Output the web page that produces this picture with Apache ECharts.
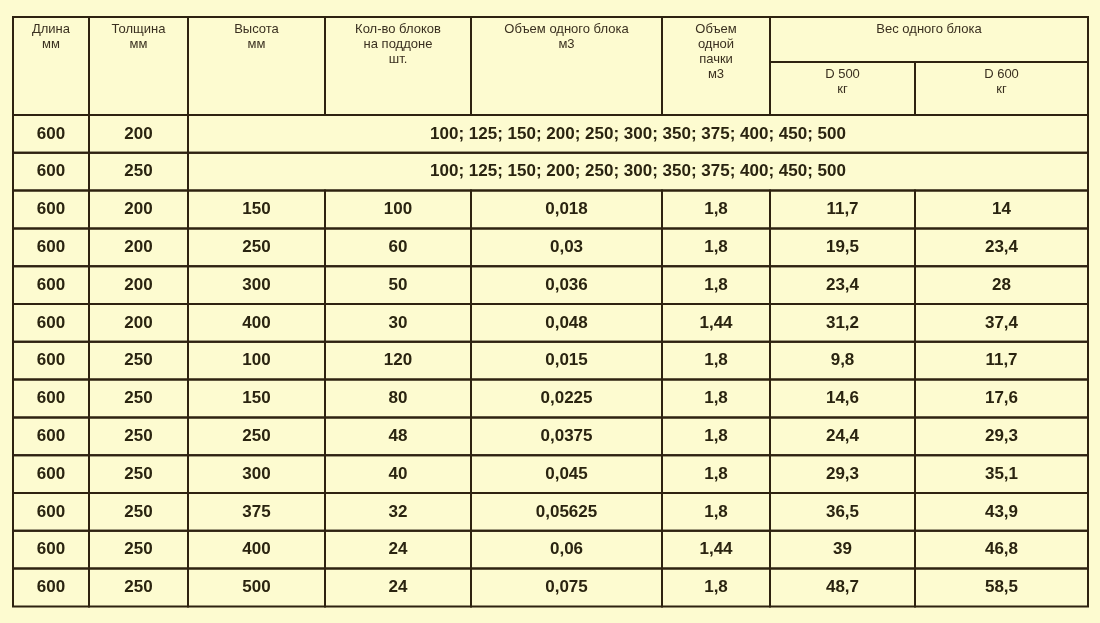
<!DOCTYPE html>
<html><head><meta charset="utf-8">
<script src="https://cdn.jsdelivr.net/npm/echarts@6/dist/echarts.min.js"></script>
<style>html,body{margin:0;padding:0;background:#fdfbd0}#c{width:1100px;height:623px}</style>
</head><body><div id="c"></div>
<script>
const headers = ["Длина\nмм","Толщина\nмм","Высота\nмм","Кол-во блоков\nна поддоне\nшт.","Объем одного блока\nм3","Объем\nодной\nпачки\nм3"];
const weightHeader = "Вес одного блока";
const subHeaders = ["D 500\nкг","D 600\nкг"];
const spanRows = [["600","200","100; 125; 150; 200; 250; 300; 350; 375; 400; 450; 500"],
                  ["600","250","100; 125; 150; 200; 250; 300; 350; 375; 400; 450; 500"]];
const lengthCol = ["600","600","600","600","600","600","600","600","600","600","600"];
const thickness = ["200","200","200","200","250","250","250","250","250","250","250"];
const heightCol = ["150","250","300","400","100","150","250","300","375","400","500"];
const perPallet = ["100","60","50","30","120","80","48","40","32","24","24"];
const blockVolume = ["0,018","0,03","0,036","0,048","0,015","0,0225","0,0375","0,045","0,05625","0,06","0,075"];
const packVolume = ["1,8","1,8","1,8","1,44","1,8","1,8","1,8","1,8","1,8","1,44","1,8"];
const weightD500 = ["11,7","19,5","23,4","31,2","9,8","14,6","24,4","29,3","36,5","39","48,7"];
const weightD600 = ["14","23,4","28","37,4","11,7","17,6","29,3","35,1","43,9","46,8","58,5"];

(function(){
const colX = [13,89,188,325,471,662,770,915,1088];
const tY = 17, headMid = 62, headBot = 115, rowH = 37.8;
const cells = [];
headers.forEach((h,i)=>cells.push([colX[i],colX[i+1],tY,headBot,h,0]));
cells.push([colX[6],colX[8],tY,headMid,weightHeader,0]);
subHeaders.forEach((h,i)=>cells.push([colX[6+i],colX[7+i],headMid,headBot,h,0]));
let y = headBot;
spanRows.forEach(r=>{
  cells.push([colX[0],colX[1],y,y+rowH,r[0],1]);
  cells.push([colX[1],colX[2],y,y+rowH,r[1],1]);
  cells.push([colX[2],colX[8],y,y+rowH,r[2],1]);
  y+=rowH;
});
const cols=[lengthCol,thickness,heightCol,perPallet,blockVolume,packVolume,weightD500,weightD600];
for(let r=0;r<lengthCol.length;r++){
  cols.forEach((c,i)=>cells.push([colX[i],colX[i+1],y,y+rowH,c[r],1]));
  y+=rowH;
}
const chart = echarts.init(document.getElementById('c'));
chart.setOption({
  backgroundColor:'#fdfbd0',
  animation:false,
  grid:{left:0,right:0,top:0,bottom:0},
  xAxis:{type:'value',min:0,max:1100,show:false},
  yAxis:{type:'value',min:0,max:623,inverse:true,show:false},
  series:[{type:'custom',data:cells.map(c=>[c[0],c[2]]),clip:false,
    renderItem:(params,api)=>{
      const d=cells[params.dataIndex];
      const p0=api.coord([d[0],d[2]]), p1=api.coord([d[1],d[3]]);
      const isHead=d[5]===0;
      return {type:'group',children:[
        {type:'rect',shape:{x:p0[0],y:p0[1],width:p1[0]-p0[0],height:p1[1]-p0[1]},
         style:{fill:'transparent',stroke:'#2e2210',lineWidth:2}},
        {type:'text',style:{
          text:d[4],x:(p0[0]+p1[0])/2,y:isHead?p0[1]+5:(p0[1]+p1[1])/2,
          align:'center',verticalAlign:isHead?'top':'middle',
          font:isHead?'13px "Liberation Sans", Arial':'bold 17px "Liberation Sans", Arial',
          lineHeight:isHead?15:20,fill:isHead?'#3a3020':'#2a2410'}}
      ]};
    }}]
});
})();
</script></body></html>
